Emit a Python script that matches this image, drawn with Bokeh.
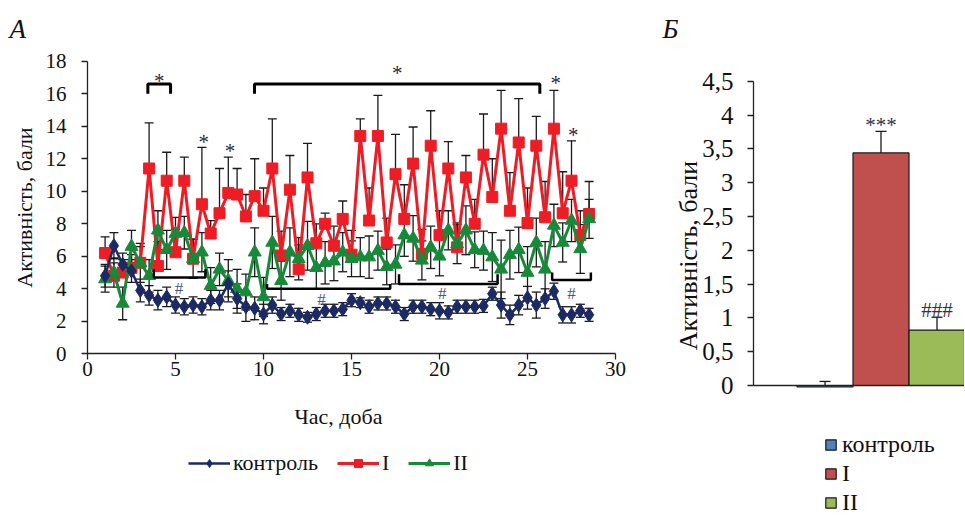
import math
from bokeh.plotting import figure
from bokeh.models import (Range1d, FixedTicker, Whisker, TeeHead, ColumnDataSource,
                          Legend, LegendItem, Label)
from bokeh.layouts import row
from bokeh.embed import file_html
from bokeh.resources import INLINE
from bokeh.core.properties import value

# ---------------- data (panel A) ----------------
days = [1, 1.5, 2, 2.5, 3, 3.5, 4, 4.5, 5, 5.5, 6, 6.5, 7, 7.5, 8, 8.5, 9, 9.5, 10, 10.5,
        11, 11.5, 12, 12.5, 13, 13.5, 14, 14.5, 15, 15.5, 16, 16.5, 17, 17.5, 18, 18.5,
        19, 19.5, 20, 20.5, 21, 21.5, 22, 22.5, 23, 23.5, 24, 24.5, 25, 25.5, 26, 26.5,
        27, 27.5, 28, 28.5]

control = [4.8, 6.65, 5.5, 5.1, 3.9, 3.6, 3.3, 3.5, 3.0, 2.9, 3.0, 2.9, 3.3, 3.3, 4.3, 3.4,
           2.9, 2.8, 2.45, 3.0, 2.45, 2.65, 2.4, 2.25, 2.45, 2.65, 2.65, 2.75, 3.3, 3.15,
           2.9, 3.1, 3.1, 2.9, 2.45, 2.9, 2.9, 2.75, 2.65, 2.55, 2.9, 2.9, 2.9, 2.95, 3.7,
           3.0, 2.4, 3.0, 3.45, 3.0, 3.4, 3.85, 2.4, 2.4, 2.65, 2.4]
control_sd = [0.7, 0.8, 0.7, 0.7, 0.7, 0.6, 0.6, 0.6, 0.5, 0.5, 0.5, 0.5, 0.6, 0.6, 0.8, 0.9,
              0.9, 0.7, 0.6, 0.5, 0.4, 0.4, 0.4, 0.3, 0.4, 0.4, 0.4, 0.4, 0.4, 0.3, 0.4, 0.4,
              0.4, 0.4, 0.4, 0.4, 0.4, 0.4, 0.5, 0.4, 0.4, 0.4, 0.4, 0.4, 0.4, 0.8, 0.6, 0.6,
              0.7, 0.8, 0.6, 0.5, 0.5, 0.5, 0.4, 0.4]

group1 = [6.2, 4.8, 5.0, 5.3, 5.6, 11.4, 5.4, 10.65, 6.25, 10.65, 5.85, 9.2, 7.4, 8.65, 9.9,
          9.8, 8.45, 9.7, 8.8, 11.4, 6.05, 10.1, 5.2, 10.85, 6.8, 8.0, 6.65, 8.3, 6.1, 13.4,
          8.2, 13.4, 6.85, 11.05, 8.3, 11.7, 6.15, 12.8, 7.3, 11.4, 6.55, 10.85, 8.0, 12.25,
          9.65, 13.85, 8.8, 13.0, 8.05, 12.8, 8.4, 13.85, 8.65, 10.65, 7.3, 8.6]
group1_sd = [1.0, 0.8, 0.8, 0.8, 1.0, 2.8, 1.5, 1.75, 1.4, 1.45, 1.2, 3.5, 0.8, 2.75, 2.2, 1.6,
             1.35, 2.3, 1.4, 3.05, 1.5, 2.1, 1.5, 2.1, 1.2, 0.65, 1.2, 1.1, 1.5, 1.05, 2.0,
             2.5, 1.5, 2.45, 2.1, 2.25, 1.5, 2.15, 1.5, 1.65, 1.5, 1.35, 1.5, 2.5, 2.35, 2.35,
             2.35, 2.7, 2.15, 1.8, 2.2, 2.35, 2.55, 2.45, 1.5, 2.0]

group2 = [4.6, 5.0, 3.1, 6.6, 5.6, 4.8, 7.6, 6.4, 7.4, 7.45, 5.85, 6.25, 4.2, 5.2, 4.5, 4.0,
          3.8, 6.25, 3.5, 6.85, 4.5, 6.25, 5.85, 6.65, 5.3, 5.6, 5.7, 6.25, 5.85, 5.95, 5.95,
          6.35, 5.35, 5.5, 7.3, 7.1, 5.75, 6.55, 6.0, 7.6, 6.75, 7.6, 6.4, 6.35, 5.95, 5.2,
          6.1, 6.4, 5.0, 6.85, 5.2, 7.9, 6.85, 8.2, 6.45, 8.3]
group2_sd = [0.8, 0.9, 1.0, 1.0, 1.2, 1.0, 1.2, 1.2, 1.0, 1.0, 1.2, 1.2, 1.1, 1.0, 1.3, 1.2,
             1.1, 1.5, 1.2, 1.6, 1.2, 1.5, 1.3, 1.5, 1.3, 1.3, 1.2, 1.2, 1.1, 1.2, 1.3, 1.2,
             1.1, 1.2, 1.3, 1.4, 1.2, 1.3, 1.2, 1.2, 1.2, 1.5, 1.1, 1.2, 1.5, 1.8, 1.5, 1.4,
             1.6, 1.5, 1.7, 1.3, 1.2, 1.3, 1.5, 1.2]

series_names = ["контроль", "I", "II"]

# significance marks (panel A): bracket spans in days
star_brackets = [(3.43, 4.72), (9.49, 25.7)]
star_points_x = [4.08, 17.6, 6.6, 8.1, 26.6, 27.6]
star_points_y = [16.75, 17.25, 13.0, 12.5, 16.65, 13.45]
hash_brackets = [(3.77, 6.7, 4.7, 5.2), (10.2, 17.2, 4.0, 4.3), (17.7, 23.3, 4.3, 4.9),
                 (26.4, 28.6, 4.55, 5.0)]
hash_x = [5.2, 13.3, 20.15, 27.5]
hash_y = [4.05, 3.35, 3.7, 3.7]

# ---------------- data (panel B) ----------------
bar_values = [-0.02, 3.44, 0.82]
bar_err = [0.08, 0.32, 0.19]
bar_labels = ["", "***", "###"]

FONT = "Liberation Serif"
C_BLUE, C_RED, C_GREEN = "#1B2A63", "#EE1C24", "#178A3A"
H = 516


def style_axis(ax, tick_font, label_font):
    ax.axis_line_color = "#222222"
    ax.axis_line_width = 1.3
    ax.major_tick_line_color = "#222222"
    ax.major_tick_line_width = 1.3
    ax.major_tick_in = 0
    ax.major_tick_out = 6
    ax.minor_tick_line_color = None
    ax.major_label_text_font = FONT
    ax.major_label_text_font_size = tick_font
    ax.major_label_text_color = "#111111"
    ax.axis_label_text_font = FONT
    ax.axis_label_text_font_style = "normal"
    ax.axis_label_text_font_size = label_font
    ax.axis_label_text_color = "#111111"


# ================= panel A =================
p1 = figure(width=640, height=H, output_backend="svg", toolbar_location=None,
            x_range=Range1d(-4.943, 31.42), y_range=Range1d(-10.0, 21.73),
            min_border=0)
p1.title.visible = False
p1.outline_line_color = None
p1.grid.grid_line_color = None

xa1, ya1 = p1.xaxis[0], p1.yaxis[0]
style_axis(xa1, "21px", "22px")
style_axis(ya1, "21px", "22px")
xa1.fixed_location = 0
xa1.bounds = (0, 30)
ya1.fixed_location = 0
ya1.bounds = (0, 18)
xa1.ticker = FixedTicker(ticks=[0, 5, 10, 15, 20, 25, 30])
ya1.ticker = FixedTicker(ticks=[0, 2, 4, 6, 8, 10, 12, 14, 16, 18])
ya1.axis_label = "Активність, бали"
xa1.major_label_standoff = 2
ya1.major_label_standoff = 15
ya1.axis_label_standoff = 6

p1.add_layout(Label(x=338, y=H - 416, x_units="screen", y_units="screen",
                    text="Час, доба", text_font=FONT, text_font_size="22px",
                    text_align="center", text_baseline="middle", text_color="#111111"))


def src(vals, sd, upper_only=False):
    lower = vals if upper_only else [v - s for v, s in zip(vals, sd)]
    return ColumnDataSource(dict(x=days, y=vals, upper=[v + s for v, s in zip(vals, sd)],
                                 lower=lower))


s_c = src(control, control_sd)
s_1 = src(group1, group1_sd, upper_only=True)
s_2 = src(group2, group2_sd)

for s, up_only in ((s_1, True), (s_2, False), (s_c, False)):
    w = Whisker(source=s, base="x", upper="upper", lower="lower", line_color="#1a1a1a",
                line_width=1.3, level="underlay",
                upper_head=TeeHead(size=9, line_color="#1a1a1a", line_width=1.3),
                lower_head=None if up_only else TeeHead(size=9, line_color="#1a1a1a", line_width=1.3))
    p1.add_layout(w)

l1 = p1.line("x", "y", source=s_1, line_color=C_RED, line_width=3)
m1 = p1.scatter("x", "y", source=s_1, marker="square", size=11, fill_color=C_RED, line_color=C_RED)
l2 = p1.line("x", "y", source=s_2, line_color=C_GREEN, line_width=3)
m2 = p1.scatter("x", "y", source=s_2, marker="triangle", size=13, fill_color=C_GREEN, line_color=C_GREEN)
lc = p1.line("x", "y", source=s_c, line_color=C_BLUE, line_width=2.5)
mc = p1.scatter("x", "y", source=s_c, marker="diamond", size=14, fill_color=C_BLUE, line_color=C_BLUE)

# brackets
for (a, b) in star_brackets:
    p1.line([a, a, b, b], [16.0, 16.6, 16.6, 16.0], line_color="black", line_width=3)
for (a, b, yb, yt) in hash_brackets:
    p1.line([a, a, b, b], [yt, yb, yb, yt], line_color="black", line_width=2.5)

p1.text(x=star_points_x, y=star_points_y, text=["*"] * len(star_points_x),
        text_font=value(FONT), text_font_size="21px", text_color="#2a2a3a",
        text_align="center", text_baseline="middle")
p1.text(x=hash_x, y=hash_y, text=["#"] * len(hash_x),
        text_font=value(FONT), text_font_size="17px", text_color="#4a5a7a",
        text_align="center", text_baseline="middle")

leg1 = Legend(items=[LegendItem(label=series_names[0], renderers=[lc, mc]),
                     LegendItem(label=series_names[1], renderers=[l1, m1]),
                     LegendItem(label=series_names[2], renderers=[l2, m2])],
              orientation="horizontal", location=(188, H - 476),
              border_line_color=None, background_fill_alpha=0,
              glyph_width=42, glyph_height=20, label_standoff=3, spacing=19,
              label_width=5, padding=0, margin=0,
              label_text_font=FONT, label_text_font_size="22px", label_text_color="#111111")
p1.add_layout(leg1, "center")

p1.add_layout(Label(x=9, y=H - 28, x_units="screen", y_units="screen", text="А",
                    text_font=FONT, text_font_size="27px", text_font_style="italic",
                    text_baseline="middle", text_color="#111111"))

# ================= panel B =================
p2 = figure(width=324, height=H, output_backend="svg", toolbar_location=None,
            x_range=Range1d(-2.295, 3.491), y_range=Range1d(-1.938, 5.695),
            min_border=0)
p2.title.visible = False
p2.outline_line_color = None
p2.grid.grid_line_color = None

ya2, xa2 = p2.yaxis[0], p2.xaxis[0]
style_axis(ya2, "25px", "25px")
ya2.fixed_location = -0.277
ya2.bounds = (0, 4.5)
ya2.ticker = FixedTicker(ticks=[0, 0.5, 1, 1.5, 2, 2.5, 3, 3.5, 4, 4.5])
ya2.major_label_overrides = {0: "0", 0.5: "0,5", 1: "1", 1.5: "1,5", 2: "2", 2.5: "2,5",
                             3: "3", 3.5: "3,5", 4: "4", 4.5: "4,5"}
ya2.major_label_standoff = 14

style_axis(xa2, "1px", "1px")
xa2.fixed_location = 0
xa2.bounds = (-0.277, 3.6)
xa2.ticker = FixedTicker(ticks=[])
xa2.major_tick_line_color = None

bar_pos = [i + 1 for i in range(len(series_names))]
bar_colors = ["#4F81BD", "#C0504D", "#9BBB59"]
bsrc = ColumnDataSource(dict(x=bar_pos, upper=[v + e for v, e in zip(bar_values, bar_err)],
                             base=[max(v, 0) for v in bar_values]))
bar_items = []
for i, nm in enumerate(series_names):
    r = p2.vbar(x=[bar_pos[i]], top=[bar_values[i]], bottom=0, width=1,
                fill_color=bar_colors[i], line_color="#1a1a1a", line_width=1.2)
    bar_items.append(LegendItem(label=nm, renderers=[r]))

p2.add_layout(Whisker(source=bsrc, base="x", upper="upper", lower="base",
                      line_color="#1a1a1a", line_width=1.3, level="underlay",
                      upper_head=TeeHead(size=11, line_color="#1a1a1a", line_width=1.3),
                      lower_head=None))
p2.text(x=bar_pos, y=[u + 0.1 for u in bsrc.data["upper"]], text=bar_labels,
        text_font=value(FONT), text_font_size="21px", text_color="#333344",
        text_align="center", text_baseline="middle")

p2.add_layout(Label(x=48, y=H - 255, x_units="screen", y_units="screen",
                    text="Активність, бали", angle=math.pi / 2,
                    text_font=FONT, text_font_size="26px", text_align="center",
                    text_baseline="middle", text_color="#111111"))

leg2 = Legend(items=bar_items, orientation="vertical", location=(184, 0),
              border_line_color=None, background_fill_alpha=0,
              glyph_width=13, glyph_height=13, label_standoff=5, spacing=2,
              padding=0, margin=0, label_height=24,
              label_text_font=FONT, label_text_font_size="24px", label_text_color="#111111")
p2.add_layout(leg2, "center")

p2.add_layout(Label(x=22, y=H - 28, x_units="screen", y_units="screen", text="Б",
                    text_font=FONT, text_font_size="27px", text_font_style="italic",
                    text_baseline="middle", text_color="#111111"))

layout = row(p1, p2)
open("out.html", "w").write(file_html(layout, INLINE))
